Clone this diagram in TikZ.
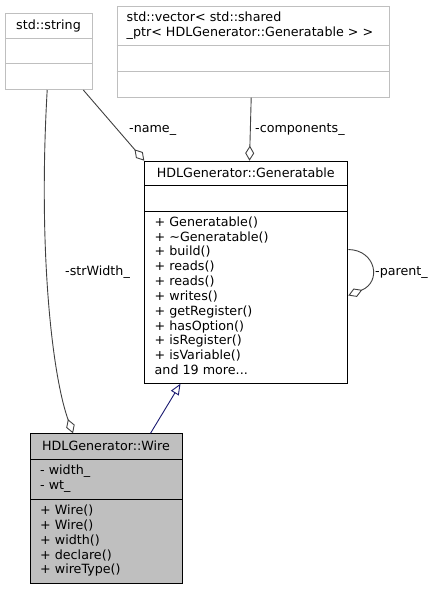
\documentclass[tikz,border=0pt]{standalone}
\usepackage{fontspec}
\setmainfont{DejaVu Sans}
\usetikzlibrary{arrows.meta}
\definecolor{grey75}{HTML}{BFBFBF}
\definecolor{grey25}{HTML}{404040}
\definecolor{midnightblue}{HTML}{191970}

\begin{document}
\begin{tikzpicture}[x=1pt, y=-1pt,
    every node/.style={font=\fontsize{12.7}{14.8}\selectfont, inner sep=0pt},
    classbox/.style={rectangle, draw=black, line width=1pt, anchor=north west},
    libbox/.style={rectangle, draw=grey75, line width=1pt, anchor=north west},
    member/.style={anchor=base west},
    title/.style={anchor=base},
    uses/.style={draw=grey25, line width=0.9pt, -{Diamond[open, length=15pt, width=9pt]}},
    derives/.style={draw=midnightblue, line width=0.9pt, -{Triangle[open, length=11pt, width=9pt]}}]

        \useasboundingbox (0,0) rectangle (435,589);

        \node[libbox, minimum width=87pt, minimum height=76pt] (string) at(5,13){};
        \draw[grey75, line width=1pt] (string.west |- 0,38.3) -- (string.east |- 0,38.3);
        \draw[grey75, line width=1pt] (string.west |- 0,63.7) -- (string.east |- 0,63.7);
        \node[title] (string-title) at(48.5,29.5){std::string};

        \node[libbox, minimum width=272pt, minimum height=91pt] (vector) at(116.7,5.7){};
        \draw[grey75, line width=1pt] (vector.west |- 0,45.7) -- (vector.east |- 0,45.7);
        \draw[grey75, line width=1pt] (vector.west |- 0,71) -- (vector.east |- 0,71);
        \node[member] (vector-title-1) at(126.5,21.5){std::vector< std::shared};
        \node[member] (vector-title-2) at(126.5,36.5){\_ptr< HDLGenerator::Generatable > >};

        \node[classbox, minimum width=203pt, minimum height=222pt] (gen) at(144.3,160.7){};
        \draw[line width=1pt] (gen.west |- 0,185.7) -- (gen.east |- 0,185.7);
        \draw[line width=1pt] (gen.west |- 0,211) -- (gen.east |- 0,211);
        \node[title] (gen-title) at(245.8,177){HDLGenerator::Generatable};
        \node[member] (gen-1) at(154.5,226.2){+ Generatable()};
        \node[member] (gen-2) at(154.5,241.0){+ \string~Generatable()};
        \node[member] (gen-3) at(154.5,255.9){+ build()};
        \node[member] (gen-4) at(154.5,270.7){+ reads()};
        \node[member] (gen-5) at(154.5,285.6){+ reads()};
        \node[member] (gen-6) at(154.5,300.4){+ writes()};
        \node[member] (gen-7) at(154.5,315.2){+ getRegister()};
        \node[member] (gen-8) at(154.5,330.1){+ hasOption()};
        \node[member] (gen-9) at(154.5,344.9){+ isRegister()};
        \node[member] (gen-10) at(154.5,359.8){+ isVariable()};
        \node[member] (gen-more) at(154.5,374.6){and 19 more...};

        \node[classbox, fill=grey75, minimum width=152pt, minimum height=149.7pt] (wire) at(30,433.3){};
        \draw[line width=1pt] (wire.west |- 0,459.3) -- (wire.east |- 0,459.3);
        \draw[line width=1pt] (wire.west |- 0,499) -- (wire.east |- 0,499);
        \node[title] (wire-title) at(106,450){HDLGenerator::Wire};
        \node[member] (wire-width) at(40,474.6){- width\_};
        \node[member] (wire-wt) at(40,489.4){- wt\_};
        \node[member] (wire-1) at(40,514.7){+ Wire()};
        \node[member] (wire-2) at(40,529.5){+ Wire()};
        \node[member] (wire-3) at(40,544.3){+ width()};
        \node[member] (wire-4) at(40,559.1){+ declare()};
        \node[member] (wire-5) at(40,573.9){+ wireType()};

        \draw[uses] ([xshift=-1.8pt]string.south) .. controls (38,250) and (52,375) .. ([xshift=43pt]wire.north west);
        \node[member] (strwidth-label) at(65,275.5){-strWidth\_};

        \draw[uses] ([xshift=-9.7pt]string.south east) -- (gen.north west);
        \node[member] (name-label) at(129,132){-name\_};

        \draw[uses] ([xshift=-2pt]vector.south) -- ([xshift=3.2pt]gen.north);
        \node[member] (components-label) at(255,132){-components\_};

        \draw[uses] ([yshift=22.7pt]gen.east) .. controls (376,250) and (382,282) .. ([yshift=-23.3pt]gen.east);
        \node[member] (parent-label) at(375,275){-parent\_};

        \draw[derives] ([xshift=44pt]wire.north) -- ([xshift=-65.8pt]gen.south);

      \end{tikzpicture}
\end{document}
